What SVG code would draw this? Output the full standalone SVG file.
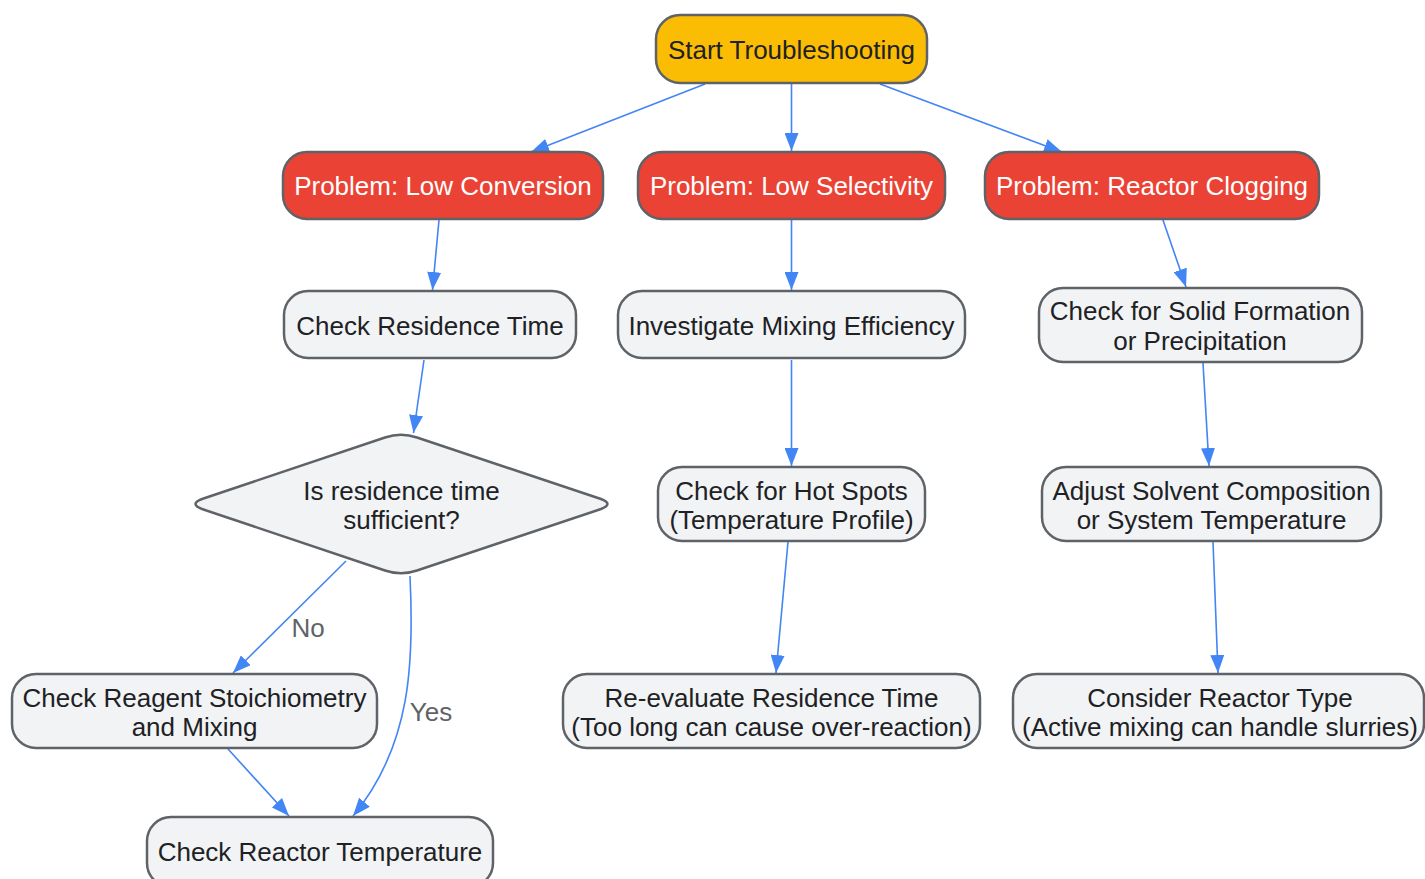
<svg xmlns="http://www.w3.org/2000/svg" width="1425" height="879" viewBox="0 0 1425 879">
<style>
.node{stroke:#5f6368;stroke-width:2.5}
.start{fill:#fbbc04}
.prob{fill:#ea4335}
.step{fill:#f1f3f4}
text{font-family:"Liberation Sans",Arial,sans-serif;font-size:26px;text-anchor:middle}
.dark{fill:#202124}
.light{fill:#ffffff}
.lbl{fill:#5f6368}
.edge{fill:none;stroke:#4285f4;stroke-width:1.6;marker-end:url(#arr)}
</style>
<defs>
<marker id="arr" viewBox="0 0 18 14" refX="18" refY="7" markerWidth="18" markerHeight="14" markerUnits="userSpaceOnUse" orient="auto">
<path d="M0,0 L18,7 L0,14 z" fill="#4285f4"/>
</marker>
</defs>
<rect width="1425" height="879" fill="#ffffff"/>
<g id="connectors">
<path class="edge" d="M705,84 L531,152"/>
<path class="edge" d="M791.5,84 L791.5,151"/>
<path class="edge" d="M880,84 L1062,152"/>
<path class="edge" d="M439,220 L432.5,290"/>
<path class="edge" d="M791.5,220 L791.5,290"/>
<path class="edge" d="M1163,220 L1186,287"/>
<path class="edge" d="M424,360 L413.5,433"/>
<path class="edge" d="M791.5,360 L791.5,466"/>
<path class="edge" d="M1203,363 L1209,466"/>
<path class="edge" d="M346,561 L233,673"/>
<path class="edge" d="M410,576 C414,660 412,745 353,816"/>
<path class="edge" d="M228,749 L289,816"/>
<path class="edge" d="M788,542 L776,673"/>
<path class="edge" d="M1213,542 L1218,673"/>
<text class="lbl" x="308" y="637">No</text>
<text class="lbl" x="431" y="721">Yes</text>
</g>
<g id="start">
<rect class="node start" x="656" y="15" width="271" height="68" rx="24"/>
<text class="dark" x="791.5" y="58.5">Start Troubleshooting</text>
</g>
<g id="lowConversion">
<rect class="node prob" x="283" y="152" width="320" height="67" rx="24"/>
<text class="light" x="443" y="195">Problem: Low Conversion</text>
</g>
<g id="lowSelectivity">
<rect class="node prob" x="638" y="152" width="307" height="67" rx="24"/>
<text class="light" x="791.5" y="195">Problem: Low Selectivity</text>
</g>
<g id="clogging">
<rect class="node prob" x="985" y="152" width="334" height="67" rx="24"/>
<text class="light" x="1152" y="195">Problem: Reactor Clogging</text>
</g>
<g id="checkResidence">
<rect class="node step" x="284" y="291" width="292" height="67" rx="24"/>
<text class="dark" x="430" y="335">Check Residence Time</text>
</g>
<g id="mixing">
<rect class="node step" x="618" y="291" width="347" height="67" rx="24"/>
<text class="dark" x="791.5" y="335">Investigate Mixing Efficiency</text>
</g>
<g id="solid">
<rect class="node step" x="1039" y="288" width="323" height="74" rx="24"/>
<text class="dark" x="1200" y="320">Check for Solid Formation</text>
<text class="dark" x="1200" y="350">or Precipitation</text>
</g>
<g id="decision">
<path class="node step" d="M202,499 L385,437.5 Q401,432 417,437.5 L601,499 Q614,504 601,509 L417,570.5 Q401,576 385,570.5 L202,509 Q189,504 202,499 Z"/>
<text class="dark" x="401.5" y="500">Is residence time</text>
<text class="dark" x="401.5" y="529">sufficient?</text>
</g>
<g id="hotSpots">
<rect class="node step" x="658" y="467" width="267" height="74" rx="24"/>
<text class="dark" x="791.5" y="500">Check for Hot Spots</text>
<text class="dark" x="791.5" y="529">(Temperature Profile)</text>
</g>
<g id="solvent">
<rect class="node step" x="1042" y="467" width="339" height="74" rx="24"/>
<text class="dark" x="1211.5" y="500">Adjust Solvent Composition</text>
<text class="dark" x="1211.5" y="529">or System Temperature</text>
</g>
<g id="reagent">
<rect class="node step" x="12" y="674" width="365" height="74" rx="24"/>
<text class="dark" x="194.5" y="707">Check Reagent Stoichiometry</text>
<text class="dark" x="194.5" y="736">and Mixing</text>
</g>
<g id="reevaluate">
<rect class="node step" x="563" y="674" width="417" height="74" rx="24"/>
<text class="dark" x="771.5" y="707">Re-evaluate Residence Time</text>
<text class="dark" x="771.5" y="736">(Too long can cause over-reaction)</text>
</g>
<g id="reactorType">
<rect class="node step" x="1013" y="674" width="411" height="74" rx="24"/>
<text class="dark" x="1220" y="707">Consider Reactor Type</text>
<text class="dark" x="1220" y="736">(Active mixing can handle slurries)</text>
</g>
<g id="temperature">
<rect class="node step" x="147" y="817" width="346" height="70" rx="24"/>
<text class="dark" x="320" y="861">Check Reactor Temperature</text>
</g>
</svg>
